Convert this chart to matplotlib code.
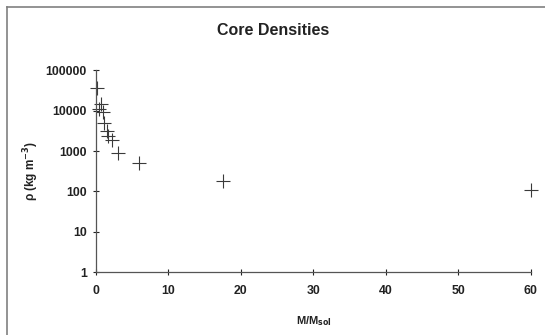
import matplotlib
matplotlib.use('Agg')
import matplotlib.pyplot as plt
from matplotlib.lines import Line2D

# core mass (solar masses) and core density (kg m^-3)
mass = [0.18, 0.46, 0.65, 0.92, 1.1, 1.5, 1.7, 2.2, 3.06, 6.0, 17.6, 60.0]
density = [37000, 11000, 15000, 9100, 4900, 3160, 2370, 1880, 890, 510, 182, 107]

x_ticks = [0, 10, 20, 30, 40, 50, 60]
y_ticks = [1, 10, 100, 1000, 10000, 100000]

plt.rcParams['font.family'] = 'Liberation Sans'
plt.rcParams['font.weight'] = 'bold'

fig = plt.figure(figsize=(5.45, 3.35), dpi=100)
ax = fig.add_axes([0.176, 0.188, 0.798, 0.602])

ax.plot(mass, density, linestyle='none', marker='+', markersize=9.5,
        markeredgewidth=0.8, color='#3a3a3a', clip_on=False)

ax.set_yscale('log')
ax.set_xlim(0, 60)
ax.set_ylim(1, 100000)
ax.set_xticks(x_ticks)
ax.set_xticklabels([str(t) for t in x_ticks])
ax.set_yticks(y_ticks)
ax.set_yticklabels([str(t) for t in y_ticks])
ax.minorticks_off()

for side in ['top', 'right']:
    ax.spines[side].set_visible(False)
for side in ['left', 'bottom']:
    ax.spines[side].set_color('#555555')
    ax.spines[side].set_linewidth(0.9)

ax.tick_params(axis='both', labelsize=8.8, colors='#222222', width=0.8)
ax.tick_params(axis='x', direction='inout', length=5, pad=7)
ax.tick_params(axis='y', direction='inout', length=5, pad=4)
for lab in ax.get_xticklabels() + ax.get_yticklabels():
    lab.set_fontweight('bold')

ax.set_xlabel(r'M/M$_{\mathbf{sol}}$', fontsize=8, fontweight='bold',
              color='#222222', labelpad=12)
ax.set_ylabel('ρ (kg m$^{\\mathbf{-3}}$)', fontsize=8.5, fontweight='bold',
              color='#222222', labelpad=3)
fig.text(0.502, 0.91, 'Core Densities', ha='center', va='center',
         fontsize=11.5, fontweight='bold', color='#222222')

# outer frame like the original chart area border
fig.add_artist(Line2D([0.013, 0.013], [0.0, 0.979], color='#808080',
                      linewidth=1.2, transform=fig.transFigure))
fig.add_artist(Line2D([0.013, 1.0], [0.979, 0.979], color='#808080',
                      linewidth=1.2, transform=fig.transFigure))

fig.savefig('out.png', dpi=100)
